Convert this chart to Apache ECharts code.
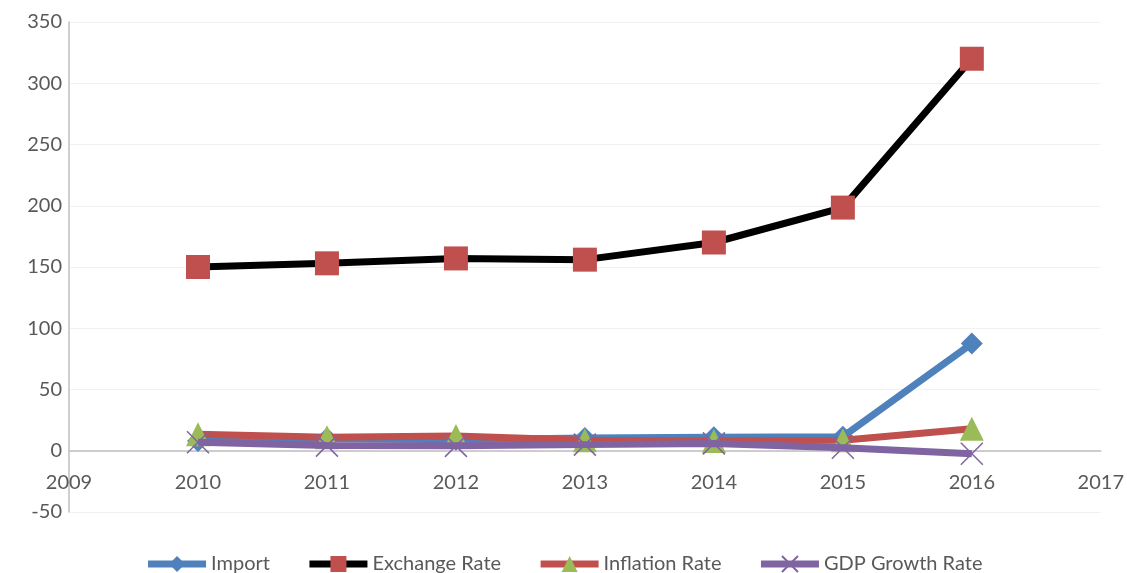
<!DOCTYPE html>
<html>
<head>
<meta charset="utf-8">
<script src="https://cdn.jsdelivr.net/npm/echarts@6/dist/echarts.min.js"></script>
<style>
  html, body { margin: 0; padding: 0; background: #fff; }
  #chart { width: 1127px; height: 573px; }
</style>
</head>
<body>
<div id="chart"></div>
<script>
// years on the x axis
const years = [2010, 2011, 2012, 2013, 2014, 2015, 2016]
const importData = [8, 10, 9, 10.5, 11, 11.5, 87.5]
const exchangeData = [150, 153, 157, 156, 170, 198.5, 320]
const inflationData = [13.5, 11, 12, 8.5, 8, 8.5, 18]
const gdpData = [7, 4.2, 4, 5, 6, 2.5, -2.5]
const seriesNames = ['Import', 'Exchange Rate', 'Inflation Rate', 'GDP Growth Rate']

const pair = (arr) => years.map((y, i) => [y, arr[i]])
const crossPath = 'path://M0,0L10,10M10,0L0,10'

// grid: 400 units over 490px, zero sits 50 units above the bottom
const gridH = 573 - 22 - 61
const zeroOffset = -(50 / 400) * gridH

const chart = echarts.init(document.getElementById('chart'))
chart.setOption({
  animation: false,
  textStyle: { fontFamily: 'Lato, "Open Sans", sans-serif' },
  grid: { left: 69, right: 26, top: 22, bottom: 61 },
  xAxis: {
    type: 'value',
    min: 2009,
    max: 2017,
    interval: 1,
    offset: zeroOffset,
    axisLine: { onZero: false, lineStyle: { color: '#bfbfbf', width: 1.5 } },
    axisTick: { show: false },
    splitLine: { show: false },
    axisLabel: {
      color: '#595959',
      fontSize: 20,
      margin: 22,
      formatter: (v) => String(v)
    }
  },
  yAxis: {
    type: 'value',
    min: -50,
    max: 350,
    interval: 50,
    axisLine: { show: true, lineStyle: { color: '#bfbfbf', width: 1.5 } },
    axisTick: { show: false },
    splitLine: { lineStyle: { color: '#f2f2f2' } },
    axisLabel: { color: '#595959', fontSize: 20, margin: 7 }
  },
  legend: {
    bottom: -6,
    left: 'center',
    itemWidth: 58,
    itemHeight: 20,
    itemGap: 36,
    lineStyle: { width: 7 },
    textStyle: { color: '#595959', fontSize: 20 },
    data: seriesNames
  },
  series: [
    {
      name: seriesNames[0],
      type: 'line',
      data: pair(importData),
      symbol: 'diamond',
      symbolSize: 22,
      lineStyle: { color: '#4f81bd', width: 7 },
      itemStyle: { color: '#4f81bd' },
      z: 2
    },
    {
      name: seriesNames[1],
      type: 'line',
      data: pair(exchangeData),
      symbol: 'rect',
      symbolSize: 24,
      lineStyle: { color: '#000', width: 7 },
      itemStyle: { color: '#c0504d' },
      z: 3
    },
    {
      name: seriesNames[2],
      type: 'line',
      data: pair(inflationData),
      symbol: 'triangle',
      symbolSize: 24,
      lineStyle: { color: '#c0504d', width: 7 },
      itemStyle: { color: '#9bbb59' },
      z: 4
    },
    {
      name: seriesNames[3],
      type: 'line',
      data: pair(gdpData),
      symbol: crossPath,
      symbolSize: 22,
      lineStyle: { color: '#8064a2', width: 7 },
      itemStyle: { color: 'rgba(0,0,0,0)', borderColor: '#8064a2', borderWidth: 1.5 },
      z: 5
    }
  ]
})
</script>
</body>
</html>
